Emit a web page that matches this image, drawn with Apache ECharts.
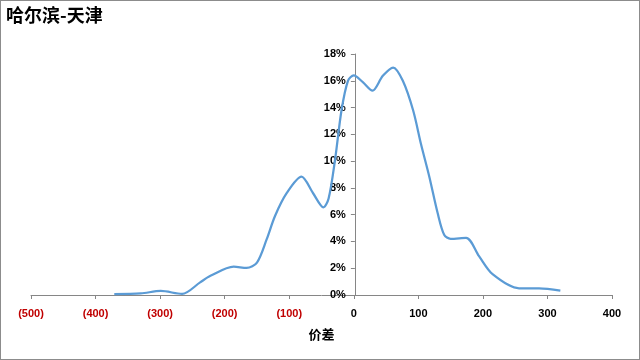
<!DOCTYPE html>
<html><head><meta charset="utf-8">
<script src="https://cdn.jsdelivr.net/npm/echarts@6/dist/echarts.min.js"></script>
<style>html,body{margin:0;padding:0;background:#fff}#c{width:640px;height:360px;box-sizing:border-box;border:1px solid #8c8c8c}</style>
</head><body><div id="c"></div>
<script>
const title = '哈尔滨-天津';
const xName = '价差';
const priceDiff = [-371,-330,-299,-266,-238,-222,-186,-166,-150,-135,-122,-104,-81,-63,-47,-39,-29,-19,-9,0,14,29,45,61,76,92,104,117,130,140,150,174,194,215,256,287,320];
const share = [0.07,0.12,0.3,0.08,0.94,1.43,2.12,2.02,2.42,4.15,5.9,7.6,8.84,7.6,6.55,7.2,10.1,13.8,16.0,16.4,15.9,15.26,16.37,16.99,16.0,13.78,11.3,8.84,6.1,4.5,4.2,4.27,2.9,1.55,0.5,0.5,0.32];
const yTicks = [0,2,4,6,8,10,12,14,16,18];

const gridLeft = 30, gridRight = 27, xMin = -500, xMax = 400;
const zeroOffset = (0 - xMin) / (xMax - xMin) * (640 - gridLeft - gridRight);

const chart = echarts.init(document.getElementById('c'));
chart.setOption({
  animation:false,
  title:{text:title,left:0,top:0,textStyle:{fontFamily:'Noto Sans CJK SC',fontWeight:'bold',fontSize:18,color:'#000'}},
  grid:{left:gridLeft,right:gridRight,top:53,bottom:64,containLabel:false,outerBoundsMode:'none'},
  xAxis:{type:'value',min:xMin,max:xMax,interval:100,
    name:xName,nameLocation:'middle',nameGap:33,
    nameTextStyle:{fontFamily:'Noto Sans CJK SC',fontWeight:'bold',fontSize:13,color:'#000'},
    axisLine:{onZero:false,lineStyle:{color:'#868686',width:1}},
    axisTick:{show:true,length:4,lineStyle:{color:'#868686'}},
    splitLine:{show:false},
    axisLabel:{margin:13,fontFamily:'Liberation Sans',fontWeight:'bold',fontSize:11,
      formatter:v=> v<0 ? '{n|('+Math.abs(v)+')}' : '{p|'+v+'}',
      rich:{n:{color:'#c00000',fontFamily:'Liberation Sans',fontWeight:'bold',fontSize:11},p:{color:'#000',fontFamily:'Liberation Sans',fontWeight:'bold',fontSize:11}}}
  },
  yAxis:{type:'value',min:0,max:18,interval:2,offset:-zeroOffset,
    axisLine:{show:true,onZero:false,lineStyle:{color:'#868686',width:1}},
    axisTick:{show:true,length:4,lineStyle:{color:'#868686'}},
    splitLine:{show:false},
    axisLabel:{margin:9,color:'#000',fontFamily:'Liberation Sans',fontWeight:'bold',fontSize:11,
      formatter:v=> yTicks.includes(v)? v+'%' : ''}
  },
  series:[{type:'line',smooth:0.3,showSymbol:false,
    data:priceDiff.map((x,i)=>[x,share[i]]),
    lineStyle:{color:'#5b9bd5',width:2.25}}]
});
</script></body></html>
